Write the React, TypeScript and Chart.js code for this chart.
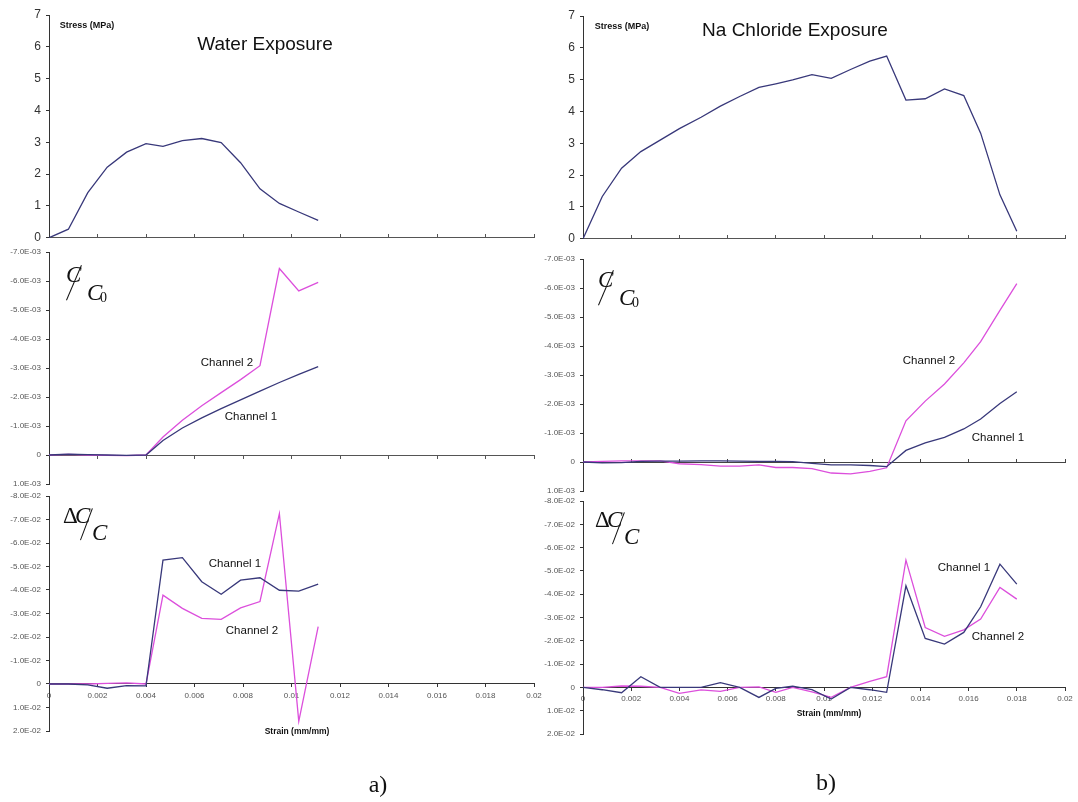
import React, { useEffect, useRef } from 'react';
import { Chart, registerables } from 'chart.js';

Chart.register(...registerables);

const SANS = 'Arial, "Liberation Sans", Helvetica, sans-serif';
const SERIF = '"Times New Roman", "Liberation Serif", serif';
const NAVY = '#38387a';
const MAGENTA = '#dc4fdc';

// ---------- Water exposure (a) ----------
const strainWater = [0, 0.0008, 0.0016, 0.0024, 0.0032, 0.004, 0.0047, 0.0055, 0.0063, 0.0071, 0.0079, 0.0087, 0.0095, 0.0103, 0.0111];
const stressWater = [0, 0.27, 1.42, 2.22, 2.69, 2.96, 2.87, 3.05, 3.12, 2.99, 2.36, 1.54, 1.08, 0.81, 0.55];
const capRatioWaterCh1 = [0, -0.00003, -0.00001, 0, 0.00001, 0, -0.0005, -0.00093, -0.00128, -0.0016, -0.0019, -0.0022, -0.0025, -0.00278, -0.00305];
const capRatioWaterCh2 = [0, -0.00002, 0, 0.00001, 0.00002, 0, -0.00062, -0.0012, -0.0017, -0.00215, -0.0026, -0.00308, -0.00643, -0.00566, -0.00595];
const capChangeWaterCh1 = [0, 0, 0.0004, 0.0018, 0.0007, 0.0008, -0.0527, -0.0538, -0.0435, -0.0382, -0.0442, -0.0452, -0.0399, -0.0395, -0.0425];
const capChangeWaterCh2 = [0, 0, 0, -0.0003, -0.0005, 0, -0.0378, -0.0322, -0.0279, -0.0275, -0.0324, -0.0351, -0.0725, 0.0159, -0.0244];

// ---------- Na Chloride exposure (b) ----------
const strainNaCl = [0, 0.0008, 0.0016, 0.0024, 0.0032, 0.004, 0.0049, 0.0057, 0.0065, 0.0073, 0.008, 0.0087, 0.0095, 0.0103, 0.0111, 0.0119, 0.0126, 0.0134, 0.0142, 0.015, 0.0158, 0.0165, 0.0173, 0.018];
const stressNaCl = [0, 1.33, 2.22, 2.74, 3.1, 3.46, 3.82, 4.17, 4.47, 4.76, 4.87, 4.99, 5.16, 5.04, 5.32, 5.58, 5.74, 4.36, 4.4, 4.71, 4.5, 3.32, 1.38, 0.24];
const capRatioNaClCh1 = [0, 0.00003, 0.00002, -0.00002, -0.00003, -0.00003, -0.00004, -0.00004, -0.00003, -0.00002, -0.00002, -0.00001, 0.00005, 0.0001, 0.0001, 0.00012, 0.00016, -0.0004, -0.00066, -0.00085, -0.00114, -0.00148, -0.00202, -0.00242];
const capRatioNaClCh2 = [0, -0.00002, -0.00004, -0.00004, -0.00004, 0.00006, 0.00009, 0.00014, 0.00014, 0.0001, 0.00019, 0.00019, 0.00023, 0.00038, 0.00041, 0.00032, 0.0002, -0.00142, -0.0021, -0.00269, -0.00342, -0.00415, -0.00523, -0.00615];
const capChangeNaClCh1 = [0, 0.001, 0.0023, -0.0046, 0, 0, 0, -0.002, 0, 0.0043, 0.0004, -0.0005, 0.001, 0.005, 0, 0.001, 0.0021, -0.0436, -0.021, -0.0186, -0.0236, -0.0346, -0.0529, -0.0443];
const capChangeNaClCh2 = [0, 0, -0.0006, -0.0005, 0, 0.0026, 0.0011, 0.0017, 0, -0.0002, 0.0021, 0, 0.0019, 0.0043, 0, -0.0026, -0.0046, -0.0546, -0.0257, -0.0219, -0.0247, -0.0293, -0.0429, -0.0379];

// ---------- axis ranges ----------
const strainRange = [0, 0.02];
const strainStep = 0.002;
const stressRange = [0, 7];
const capRatioRange = [-0.007, 0.001];
const capChangeRange = [-0.08, 0.02];

type Series = { xs: number[]; ys: number[]; color: string };
type PanelSpec = {
  left: number; top: number; width: number; height: number;
  padTop: number; padBottom: number; padRight: number; yWidth: number;
  yRange: number[]; yStep: number; reverse: boolean;
  yFontSize: number; sci: boolean;
  xLabels: boolean; xDash: number[]; xColor: string; xTickLen: number;
  series: Series[];
};

const fmtE = (v: number) => {
  if (Math.abs(v) < 1e-12) return '0';
  const [m, e] = v.toExponential(1).split('e');
  const en = parseInt(e, 10);
  return `${m}E${en < 0 ? '-' : '+'}${String(Math.abs(en)).padStart(2, '0')}`;
};
const fmtX = (v: number) => String(parseFloat(v.toFixed(4)));

function Panel({ spec }: { spec: PanelSpec }) {
  const ref = useRef<HTMLCanvasElement>(null);
  useEffect(() => {
    const c = ref.current!;
    const chart = new Chart(c, {
      type: 'line',
      data: {
        datasets: spec.series.map((s, k) => ({
          label: 'series' + k,
          data: s.xs.map((x, i) => ({ x, y: s.ys[i] })),
          borderColor: s.color,
          borderWidth: 1.3,
          pointRadius: 0,
          tension: 0,
          fill: false,
        })),
      },
      options: {
        responsive: false,
        animation: false,
        events: [],
        layout: { padding: { top: spec.padTop, bottom: spec.padBottom, left: 0, right: spec.padRight } },
        plugins: { legend: { display: false }, tooltip: { enabled: false }, title: { display: false } },
        scales: {
          x: {
            type: 'linear',
            min: strainRange[0],
            max: strainRange[1],
            position: { y: 0 } as any,
            ticks: {
              display: spec.xLabels,
              stepSize: strainStep,
              autoSkip: false,
              maxRotation: 0,
              padding: 4,
              color: '#555',
              font: { family: SANS, size: 8 },
              callback: (v: any) => fmtX(Number(v)),
            },
            grid: { display: true, drawOnChartArea: false, drawTicks: true, tickLength: spec.xTickLen, color: spec.xColor },
            border: { display: true, color: spec.xColor, width: 1, dash: spec.xDash },
          },
          y: {
            type: 'linear',
            position: 'left',
            min: spec.yRange[0],
            max: spec.yRange[1],
            reverse: spec.reverse,
            afterFit: (s: any) => { s.width = spec.yWidth; },
            ticks: {
              stepSize: spec.yStep,
              autoSkip: false,
              padding: 5,
              color: spec.sci ? '#555' : '#333',
              font: { family: SANS, size: spec.yFontSize },
              callback: (v: any) => (spec.sci ? fmtE(Number(v)) : String(v)),
            },
            grid: { display: true, drawOnChartArea: false, drawTicks: true, tickLength: 3, color: '#333' },
            border: { display: true, color: '#333', width: 1 },
          },
        },
      } as any,
    });
    return () => chart.destroy();
  }, []);
  return (
    <canvas
      ref={ref}
      width={spec.width}
      height={spec.height}
      style={{ position: 'absolute', left: spec.left, top: spec.top, width: spec.width, height: spec.height }}
    />
  );
}

const L = { left: 0, width: 560, yWidth: 49, padRight: 26 };
const R = { left: 540, width: 538, yWidth: 43, padRight: 13 };

const panels: PanelSpec[] = [
  {
    ...L, top: 0, height: 250, padTop: 15, padBottom: 12,
    yRange: stressRange, yStep: 1, reverse: false, yFontSize: 12, sci: false,
    xLabels: false, xDash: [1, 1], xColor: '#555', xTickLen: -4,
    series: [{ xs: strainWater, ys: stressWater, color: NAVY }],
  },
  {
    ...L, top: 240, height: 256, padTop: 12, padBottom: 12,
    yRange: capRatioRange, yStep: 0.001, reverse: true, yFontSize: 8, sci: true,
    xLabels: false, xDash: [1, 1], xColor: '#555', xTickLen: 3,
    series: [
      { xs: strainWater, ys: capRatioWaterCh1, color: NAVY },
      { xs: strainWater, ys: capRatioWaterCh2, color: MAGENTA },
    ],
  },
  {
    ...L, top: 484, height: 259, padTop: 12, padBottom: 12,
    yRange: capChangeRange, yStep: 0.01, reverse: true, yFontSize: 8, sci: true,
    xLabels: true, xDash: [], xColor: '#333', xTickLen: 3,
    series: [
      { xs: strainWater, ys: capChangeWaterCh1, color: NAVY },
      { xs: strainWater, ys: capChangeWaterCh2, color: MAGENTA },
    ],
  },
  {
    ...R, top: 0, height: 251, padTop: 16, padBottom: 12,
    yRange: stressRange, yStep: 1, reverse: false, yFontSize: 12, sci: false,
    xLabels: false, xDash: [1, 1], xColor: '#555', xTickLen: -4,
    series: [{ xs: strainNaCl, ys: stressNaCl, color: NAVY }],
  },
  {
    ...R, top: 247, height: 256, padTop: 12, padBottom: 12,
    yRange: capRatioRange, yStep: 0.001, reverse: true, yFontSize: 8, sci: true,
    xLabels: false, xDash: [], xColor: '#444', xTickLen: -4,
    series: [
      { xs: strainNaCl, ys: capRatioNaClCh1, color: NAVY },
      { xs: strainNaCl, ys: capRatioNaClCh2, color: MAGENTA },
    ],
  },
  {
    ...R, top: 489, height: 257, padTop: 12, padBottom: 12,
    yRange: capChangeRange, yStep: 0.01, reverse: true, yFontSize: 8, sci: true,
    xLabels: true, xDash: [], xColor: '#333', xTickLen: 3,
    series: [
      { xs: strainNaCl, ys: capChangeNaClCh1, color: NAVY },
      { xs: strainNaCl, ys: capChangeNaClCh2, color: MAGENTA },
    ],
  },
];

function T({ x, y, text, size, bold, family, color }: { x: number; y: number; text: string; size: number; bold?: boolean; family?: string; color?: string }) {
  return (
    <div
      style={{
        position: 'absolute', left: x, top: y, transform: 'translate(-50%, -50%)',
        whiteSpace: 'nowrap', fontFamily: family || SANS, fontSize: size, lineHeight: 1,
        fontWeight: bold ? 'bold' : 'normal', color: color || '#111',
      }}
    >
      {text}
    </div>
  );
}

function Slash({ x1, y1, x2, y2 }: { x1: number; y1: number; x2: number; y2: number }) {
  const len = Math.hypot(x2 - x1, y2 - y1);
  const ang = (Math.atan2(y2 - y1, x2 - x1) * 180) / Math.PI;
  return (
    <div
      style={{
        position: 'absolute', left: x1, top: y1, width: len, height: 1, background: '#111',
        transformOrigin: '0 0', transform: `rotate(${ang}deg)`,
      }}
    />
  );
}

function G({ x, y, children, size, italic }: { x: number; y: number; children: React.ReactNode; size: number; italic?: boolean }) {
  return (
    <div
      style={{
        position: 'absolute', left: x, top: y, fontFamily: SERIF, fontSize: size, lineHeight: 1,
        fontStyle: italic ? 'italic' : 'normal', color: '#111', whiteSpace: 'nowrap',
      }}
    >
      {children}
    </div>
  );
}

function CC0({ x, y }: { x: number; y: number }) {
  // x,y = top-left of upper C box
  return (
    <>
      <G x={x - 2} y={y} size={23} italic>C</G>
      <Slash x1={x - 2} y1={y + 37} x2={x + 13} y2={y + 2} />
      <G x={x + 19} y={y + 18} size={23} italic>C</G>
      <G x={x + 32} y={y + 28} size={14}>0</G>
    </>
  );
}

function DCC({ x, y }: { x: number; y: number }) {
  return (
    <>
      <G x={x} y={y} size={23}>Δ</G>
      <G x={x + 12} y={y} size={23} italic>C</G>
      <Slash x1={x + 17} y1={y + 36} x2={x + 29} y2={y + 4} />
      <G x={x + 29} y={y + 17} size={23} italic>C</G>
    </>
  );
}

export default function App() {
  return (
    <div style={{ position: 'absolute', left: 0, top: 0, width: 1078, height: 802, background: '#fff', overflow: 'hidden' }}>
      {panels.map((p, i) => (
        <Panel key={i} spec={p} />
      ))}
      <T x={87} y={25} text="Stress (MPa)" size={9} bold />
      <T x={622} y={26} text="Stress (MPa)" size={9} bold />
      <T x={265} y={43} text="Water Exposure" size={19} />
      <T x={795} y={29} text="Na Chloride Exposure" size={19} />

      <T x={227} y={363} text="Channel 2" size={11.5} />
      <T x={251} y={417} text="Channel 1" size={11.5} />
      <T x={235} y={564} text="Channel 1" size={11.5} />
      <T x={252} y={631} text="Channel 2" size={11.5} />
      <T x={929} y={361} text="Channel 2" size={11.5} />
      <T x={998} y={438} text="Channel 1" size={11.5} />
      <T x={964} y={568} text="Channel 1" size={11.5} />
      <T x={998} y={637} text="Channel 2" size={11.5} />

      <T x={297} y={731} text="Strain (mm/mm)" size={8.5} bold />
      <T x={829} y={713} text="Strain (mm/mm)" size={8.5} bold />

      <CC0 x={68} y={263} />
      <CC0 x={600} y={268} />
      <DCC x={63} y={504} />
      <DCC x={595} y={508} />

      <T x={378} y={784} text="a)" size={24} family={SERIF} />
      <T x={826} y={782} text="b)" size={24} family={SERIF} />
    </div>
  );
}
